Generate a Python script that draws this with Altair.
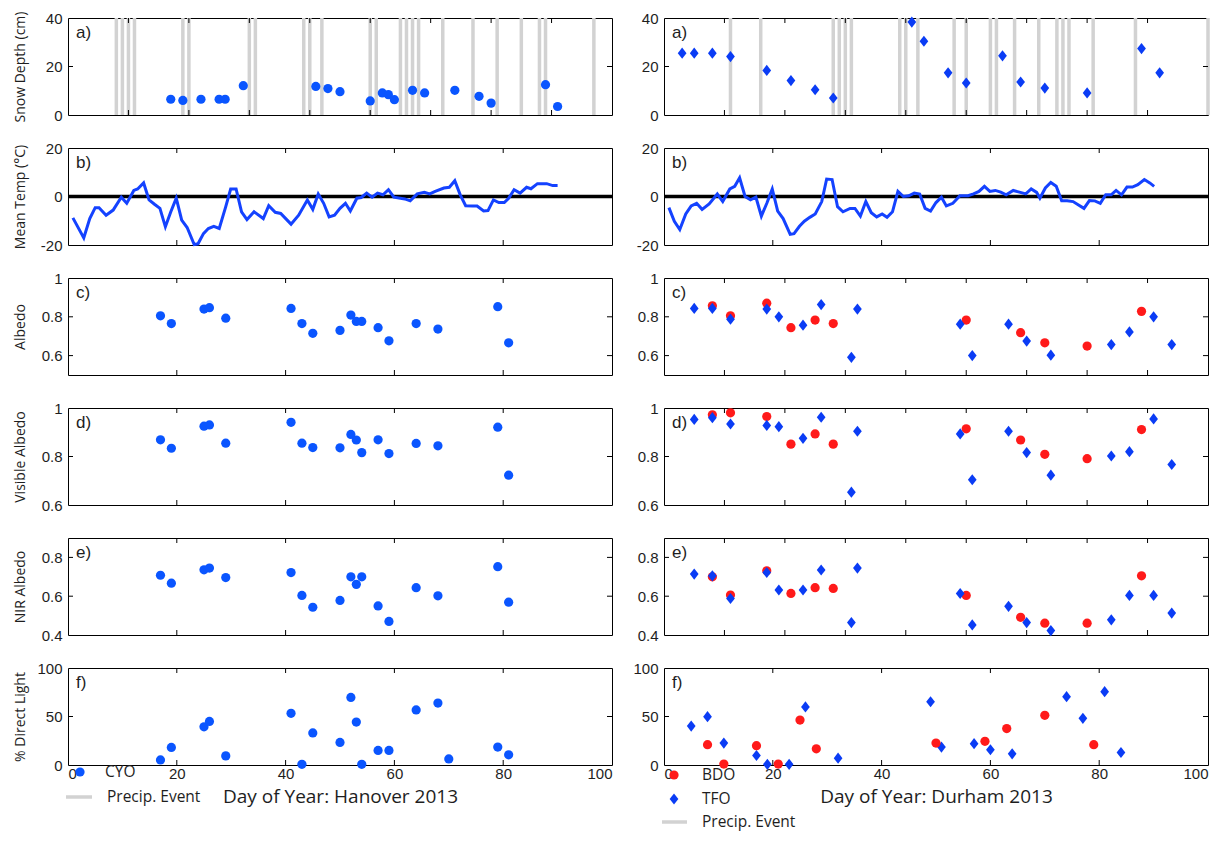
import altair as alt
import pandas as pd

W, H = 544, 97
BLUE_C = "#0a55ff"
BLUE_D = "#0a3cf5"
BLUE_L = "#1442ff"
RED = "#ff1a1a"
GRAY = "#d2d2d2"
TXT = "#1e1e1e"
TICKF = "Liberation Sans"
TITLEF = "Open Sans"
DIAMOND = "M0,-1L0.78,0L0,1L-0.78,0Z"

# ---------------- Hanover (CYO) ----------------
han_precip_days = [8, 9, 10, 11, 19, 20, 30, 31, 39, 40, 42, 50, 51, 55, 56, 57, 58, 62, 67, 71, 75, 78, 79, 87]
han_snow_days = [17, 19, 22, 25, 26, 29, 41, 43, 45, 50, 52, 53, 54, 57, 59, 64, 68, 70, 79, 81]
han_snow_cm = [6.5, 6.0, 6.5, 6.5, 6.5, 12.1, 11.8, 10.9, 9.6, 5.8, 9.1, 8.4, 6.3, 10.2, 9.1, 10.2, 7.7, 4.9, 12.5, 3.5]

han_temp_days = [0.9, 2.9, 4.0, 5.0, 5.7, 7.0, 8.3, 9.8, 10.8, 12.1, 12.8, 13.9, 14.9, 15.9, 16.9, 17.9, 18.9, 19.9,
                 20.9, 21.9, 23.2, 23.9, 24.9, 25.8, 26.8, 27.8, 29.0, 29.9, 30.9, 31.9, 32.9, 34.2, 35.9, 36.9,
                 38.1, 39.1, 41.0, 42.4, 44.0, 45.0, 46.0, 47.0, 48.0, 49.0, 50.0, 51.0, 51.9, 53.1, 53.9, 54.9,
                 55.9, 56.9, 57.9, 58.9, 59.9, 61.9, 62.9, 64.2, 65.5, 66.5, 67.5, 69.1, 70.1, 71.1, 72.1, 73.1,
                 74.4, 75.2, 76.4, 77.2, 78.2, 79.2, 80.2, 81.0, 82.0, 83.1, 84.3, 85.1, 86.3, 88.0, 89.1, 90.0]
han_temp = [-8.8, -17.1, -9.1, -4.6, -4.6, -7.7, -5.6, -0.3, -2.8, 2.5, 3.1, 5.6, -1.4, -3.2, -4.9, -12.5, -6.3, -0.7,
            -9.7, -12.8, -19.8, -19.5, -15.3, -13.2, -12.3, -13.2, -4.2, 3.1, 3.1, -6.3, -9.5, -6.3, -9.1, -3.8,
            -6.5, -7.0, -11.4, -7.7, -1.4, -5.3, 1.0, -2.8, -8.4, -7.7, -4.9, -2.8, -6.0, -0.7, -0.4, 1.4,
            -0.3, 1.4, 0.7, 2.8, -0.3, -1.0, -1.8, 1.1, 1.7, 1.1, 2.1, 3.5, 3.8, 6.5, 0.7, -3.8,
            -3.9, -3.9, -6.0, -5.8, -1.4, -2.5, -2.5, -0.7, 2.8, 1.4, 3.8, 3.2, 5.3, 5.3, 4.5, 4.5]

cyo_days = [17, 19, 25, 26, 29, 41, 43, 45, 50, 52, 53, 54, 57, 59, 64, 68, 79, 81]
cyo_albedo = [0.805, 0.765, 0.84, 0.847, 0.793, 0.843, 0.765, 0.715, 0.73, 0.809, 0.776, 0.776, 0.744, 0.676, 0.765, 0.737, 0.852, 0.666]
cyo_vis = [0.869, 0.834, 0.925, 0.930, 0.855, 0.941, 0.855, 0.837, 0.836, 0.891, 0.868, 0.816, 0.869, 0.812, 0.854, 0.844, 0.921, 0.723]
cyo_nir = [0.708, 0.667, 0.736, 0.745, 0.696, 0.722, 0.604, 0.543, 0.578, 0.700, 0.661, 0.700, 0.550, 0.470, 0.644, 0.602, 0.752, 0.569]
cyo_direct_days = [17, 19, 25, 26, 29, 41, 43, 45, 50, 52, 53, 54, 57, 59, 64, 68, 70, 79, 81]
cyo_direct = [5.2, 18.1, 39.4, 44.9, 9.4, 53.3, 0.7, 33.1, 23.3, 69.7, 44.3, 0.7, 15.0, 15.0, 56.8, 63.8, 6.3, 18.5, 10.5]

# ---------------- Durham (BDO / TFO) ----------------
dur_precip_days = [11, 16, 28, 29, 30, 31, 39, 40, 42, 48, 50, 54, 55, 58, 62, 65, 66, 67, 71, 78, 90]
tfo_snow_days = [3, 5, 8, 11, 17, 21, 25, 28, 41, 43, 47, 50, 56, 59, 63, 70, 79, 82]
tfo_snow_cm = [25.5, 25.5, 25.5, 24.1, 18.4, 14.2, 10.4, 7.0, 38.3, 30.4, 17.4, 13.2, 24.4, 13.6, 11.1, 9.1, 27.4, 17.4]

dur_temp_days = [0.9, 1.9, 2.9, 4.0, 5.0, 6.0, 7.0, 8.3, 9.8, 10.8, 12.1, 13.0, 13.9, 14.9, 15.9, 16.9, 17.9, 18.9,
                 19.9, 20.9, 21.9, 23.2, 23.9, 24.9, 25.8, 26.8, 27.8, 29.0, 29.9, 30.9, 31.9, 32.9, 34.2, 35.1,
                 36.1, 37.1, 38.1, 39.1, 40.1, 41.0, 42.0, 43.0, 44.0, 45.0, 46.0, 47.0, 48.0, 49.0, 50.0, 51.0,
                 51.9, 53.1, 54.4, 55.9, 56.9, 57.9, 58.9, 59.9, 60.9, 61.9, 62.9, 64.2, 65.5, 66.5, 67.5, 68.5,
                 69.1, 70.1, 71.1, 72.1, 73.1, 74.1, 75.2, 76.2, 77.2, 78.2, 79.2, 80.2, 81.2, 82.2, 83.1, 84.1,
                 85.1, 86.1, 87.1, 88.3, 89.3, 90.1]
dur_temp = [-4.6, -10.2, -13.6, -7.2, -3.9, -2.8, -5.3, -3.1, 1.0, -2.1, 3.1, 4.2, 7.7, 0.0, -1.4, -0.3, -8.1, -2.8,
            3.1, -6.0, -9.1, -15.6, -15.3, -12.3, -10.2, -8.6, -7.2, -2.1, 7.2, 7.0, -4.2, -6.3, -4.9, -4.9,
            -8.1, -2.1, -6.7, -8.4, -7.2, -8.6, -6.3, 2.1, 0.0, 0.3, 1.4, 1.0, -4.9, -6.0, -2.5, -0.3,
            -3.9, -2.8, 0.3, 0.3, 1.1, 2.1, 4.2, 2.1, 2.5, 1.8, 0.7, 2.5, 1.7, 1.1, 3.1, 1.7,
            -0.7, 3.5, 5.8, 4.2, -1.8, -1.8, -2.1, -3.5, -4.9, -1.7, -1.8, -2.8, 0.7, 0.7, 2.5, 0.7,
            3.9, 3.9, 4.9, 7.0, 5.6, 4.2]

tfo_days = [5, 8, 11, 17, 19, 23, 26, 31, 32, 49, 51, 57, 60, 64, 74, 77, 81, 84]
tfo_albedo = [0.843, 0.843, 0.788, 0.84, 0.80, 0.757, 0.863, 0.591, 0.84, 0.762, 0.60, 0.762, 0.675, 0.602, 0.657, 0.722, 0.80, 0.657]
tfo_vis = [0.953, 0.96, 0.934, 0.928, 0.923, 0.875, 0.962, 0.653, 0.904, 0.893, 0.704, 0.904, 0.816, 0.723, 0.802, 0.82, 0.955, 0.767]
tfo_nir = [0.714, 0.705, 0.588, 0.722, 0.632, 0.632, 0.735, 0.464, 0.745, 0.614, 0.452, 0.548, 0.464, 0.423, 0.478, 0.604, 0.604, 0.513]
bdo_days = [8, 11, 17, 21, 25, 28, 50, 59, 63, 70, 79]
bdo_albedo = [0.857, 0.805, 0.87, 0.744, 0.783, 0.765, 0.783, 0.718, 0.666, 0.649, 0.828]
bdo_vis = [0.972, 0.98, 0.965, 0.851, 0.893, 0.851, 0.914, 0.868, 0.809, 0.791, 0.911]
bdo_nir = [0.700, 0.606, 0.731, 0.614, 0.644, 0.640, 0.604, 0.491, 0.461, 0.461, 0.705]

tfo_direct_days = [5, 8, 11, 17, 19, 23, 26, 32, 49, 51, 57, 60, 64, 74, 77, 81, 84]
tfo_direct = [40.1, 49.8, 22.6, 9.8, 0.7, 0.7, 59.9, 7.0, 65.2, 18.5, 22.0, 15.7, 11.5, 70.4, 48.1, 75.6, 12.9]
bdo_direct_days = [8, 11, 17, 21, 25, 28, 50, 59, 63, 70, 79]
bdo_direct = [20.9, 1.0, 19.9, 1.0, 46.3, 16.7, 22.6, 24.4, 37.6, 51.2, 20.9]

# axis tick values / labels
x90_ticks = [10, 20, 30, 40, 50, 60, 70, 80]
x100_ticks = [20, 40, 60, 80]
x100_labels = [0, 20, 40, 60, 80, 100]

FRAC = "datum.value == 1 ? '1' : format(datum.value, '.1f')"
NEG = "datum.value < 0 ? '-' + format(-datum.value, 'd') : format(datum.value, 'd')"


class Panel:
    def __init__(self, xdom, ydom, yvals, xticks, yticks, label, ytitle=None, yexpr=None, xtitle=None):
        self.xs = alt.Scale(domain=xdom, nice=False, zero=False)
        self.ys = alt.Scale(domain=ydom, nice=False, zero=False)
        ykw = dict(values=yvals, labelFontSize=15, labelFont=TICKF, labelColor=TXT, labelPadding=6)
        if yexpr:
            ykw["labelExpr"] = yexpr
        if ytitle:
            ykw.update(titleX=-41, titleFontSize=14, titleFont=TITLEF, titleFontWeight="normal",
                       titleColor=TXT)
        self.ya = alt.Axis(**ykw)
        self.ytitle = ytitle
        if xtitle:
            self.xa = alt.Axis(values=x100_labels, labelFontSize=15, labelFont=TICKF, labelColor=TXT,
                               labelPadding=1, titleFontSize=19, titleFont=TITLEF, titleFontWeight="normal",
                               titleColor=TXT, titleY=31, titleBaseline="middle")
        else:
            self.xa = None
        self.xtitle = xtitle
        self.xticks = xticks
        self.yticks = yticks
        self.label = label
        self.layers = []

    def X(self, f):
        return alt.X(f, type="quantitative", scale=self.xs, axis=self.xa, title=self.xtitle)

    def Y(self, f):
        return alt.Y(f, type="quantitative", scale=self.ys, axis=self.ya, title=self.ytitle)

    def precip(self, days):
        self.layers.append(alt.Chart(pd.DataFrame({"day": days})).mark_rule(color=GRAY, strokeWidth=3.5)
                           .encode(x=self.X("day")))

    def zero(self):
        self.layers.append(alt.Chart(pd.DataFrame({"v": [0]})).mark_rule(color="#000", strokeWidth=3.5)
                           .encode(y=self.Y("v")))

    def line(self, days, vals):
        self.layers.append(alt.Chart(pd.DataFrame({"day": days, "v": vals}))
                           .mark_line(color=BLUE_L, strokeWidth=3)
                           .encode(x=self.X("day"), y=self.Y("v")))

    def points(self, days, vals, kind, color):
        df = pd.DataFrame({"day": days, "v": vals})
        if kind == "circle":
            m = alt.Chart(df).mark_point(shape="circle", filled=True, size=85, color=color, opacity=1)
        else:
            m = alt.Chart(df).mark_point(shape=DIAMOND, filled=True, size=125, color=color, opacity=1)
        self.layers.append(m.encode(x=self.X("day"), y=self.Y("v")))

    def legend_symbol(self, kind, color, x, y):
        if kind == "circle":
            m = alt.Chart(alt.Data(values=[{}])).mark_point(shape="circle", filled=True, size=85,
                                                            color=color, opacity=1)
        else:
            m = alt.Chart(alt.Data(values=[{}])).mark_point(shape=DIAMOND, filled=True, size=125,
                                                            color=color, opacity=1)
        self.layers.append(m.encode(x=alt.value(x), y=alt.value(y)))

    def legend_text(self, txt, x, y):
        self.layers.append(alt.Chart(alt.Data(values=[{}])).mark_text(
            align="left", baseline="middle", fontSize=15.5, font=TITLEF, color=TXT).encode(
            x=alt.value(x), y=alt.value(y), text=alt.value(txt)))

    def legend_line(self, x, x2, y):
        self.layers.append(alt.Chart(alt.Data(values=[{}])).mark_rule(color=GRAY, strokeWidth=3.5).encode(
            x=alt.value(x), x2=alt.value(x2), y=alt.value(y)))

    def build(self):
        L = list(self.layers)
        dx = pd.DataFrame({"day": self.xticks})
        bx = alt.Chart(dx).mark_rule(color="#000", strokeWidth=1)
        L.append(bx.encode(x=self.X("day"), y=alt.value(0), y2=alt.value(5)))
        L.append(bx.encode(x=self.X("day"), y=alt.value(H - 5), y2=alt.value(H)))
        dy = pd.DataFrame({"v": self.yticks})
        by = alt.Chart(dy).mark_rule(color="#000", strokeWidth=1)
        L.append(by.encode(y=self.Y("v"), x=alt.value(0), x2=alt.value(5)))
        L.append(by.encode(y=self.Y("v"), x=alt.value(W - 5), x2=alt.value(W)))
        L.append(alt.Chart(alt.Data(values=[{}])).mark_text(
            align="left", baseline="middle", fontSize=17, font=TICKF, color=TXT).encode(
            x=alt.value(8), y=alt.value(15), text=alt.value(self.label)))
        return alt.layer(*L).properties(width=W, height=H)


# ---------------- Left column (Hanover) ----------------
la = Panel([0, 90], [0, 40], [0, 20, 40], x90_ticks, [20], "a)", ytitle="Snow Depth (cm)")
la.precip(han_precip_days)
la.points(han_snow_days, han_snow_cm, "circle", BLUE_C)

lb = Panel([0, 100], [-20, 20], [-20, 0, 20], x100_ticks, [0], "b)", ytitle="Mean Temp (\u00b0C)", yexpr=NEG)
lb.zero()
lb.line(han_temp_days, han_temp)

lc = Panel([0, 100], [0.5, 1], [0.6, 0.8, 1.0], x100_ticks, [0.6, 0.8], "c)", ytitle="Albedo", yexpr=FRAC)
lc.points(cyo_days, cyo_albedo, "circle", BLUE_C)

ld = Panel([0, 100], [0.6, 1], [0.6, 0.8, 1.0], x100_ticks, [0.8], "d)", ytitle="Visible Albedo", yexpr=FRAC)
ld.points(cyo_days, cyo_vis, "circle", BLUE_C)

le = Panel([0, 100], [0.4, 0.9], [0.4, 0.6, 0.8], x100_ticks, [0.6, 0.8], "e)", ytitle="NIR Albedo", yexpr=FRAC)
le.points(cyo_days, cyo_nir, "circle", BLUE_C)

lf = Panel([0, 100], [0, 100], [0, 50, 100], x100_ticks, [50], "f)", ytitle="% Direct Light",
           xtitle="Day of Year: Hanover 2013")
lf.points(cyo_direct_days, cyo_direct, "circle", BLUE_C)
lf.legend_symbol("circle", BLUE_C, 12, H + 7)
lf.legend_text("CYO", 37, H + 7)
lf.legend_line(-2, 24, H + 32)
lf.legend_text("Precip. Event", 39, H + 32)

# ---------------- Right column (Durham) ----------------
ra = Panel([0, 90], [0, 40], [0, 20, 40], x90_ticks, [20], "a)")
ra.precip(dur_precip_days)
ra.points(tfo_snow_days, tfo_snow_cm, "diamond", BLUE_D)

rb = Panel([0, 100], [-20, 20], [-20, 0, 20], x100_ticks, [0], "b)", yexpr=NEG)
rb.zero()
rb.line(dur_temp_days, dur_temp)

rc = Panel([0, 90], [0.5, 1], [0.6, 0.8, 1.0], x90_ticks, [0.6, 0.8], "c)", yexpr=FRAC)
rc.points(bdo_days, bdo_albedo, "circle", RED)
rc.points(tfo_days, tfo_albedo, "diamond", BLUE_D)

rd = Panel([0, 90], [0.6, 1], [0.6, 0.8, 1.0], x90_ticks, [0.8], "d)", yexpr=FRAC)
rd.points(bdo_days, bdo_vis, "circle", RED)
rd.points(tfo_days, tfo_vis, "diamond", BLUE_D)

re_ = Panel([0, 90], [0.4, 0.9], [0.4, 0.6, 0.8], x90_ticks, [0.6, 0.8], "e)", yexpr=FRAC)
re_.points(bdo_days, bdo_nir, "circle", RED)
re_.points(tfo_days, tfo_nir, "diamond", BLUE_D)

rf = Panel([0, 100], [0, 100], [0, 50, 100], x100_ticks, [50], "f)", xtitle="Day of Year: Durham 2013")
rf.points(tfo_direct_days, tfo_direct, "diamond", BLUE_D)
rf.points(bdo_direct_days, bdo_direct, "circle", RED)
rf.legend_symbol("circle", RED, 10, H + 10)
rf.legend_text("BDO", 38, H + 10)
rf.legend_symbol("diamond", BLUE_D, 10, H + 34)
rf.legend_text("TFO", 38, H + 34)
rf.legend_line(-2, 23, H + 57)
rf.legend_text("Precip. Event", 38, H + 57)

panels = []
for l, r in [(la, ra), (lb, rb), (lc, rc), (ld, rd), (le, re_), (lf, rf)]:
    panels.append(l.build())
    panels.append(r.build())

chart = alt.concat(*panels, columns=2, spacing={"row": 33, "column": 52}, bounds="flush").properties(
    padding={"left": 4, "top": 2, "right": 5, "bottom": 5}
).configure_view(stroke="#000", strokeWidth=1).configure_axis(
    grid=False, ticks=False, domain=False
)

chart.save("out.html", embed_options={"renderer": "svg", "actions": False})
